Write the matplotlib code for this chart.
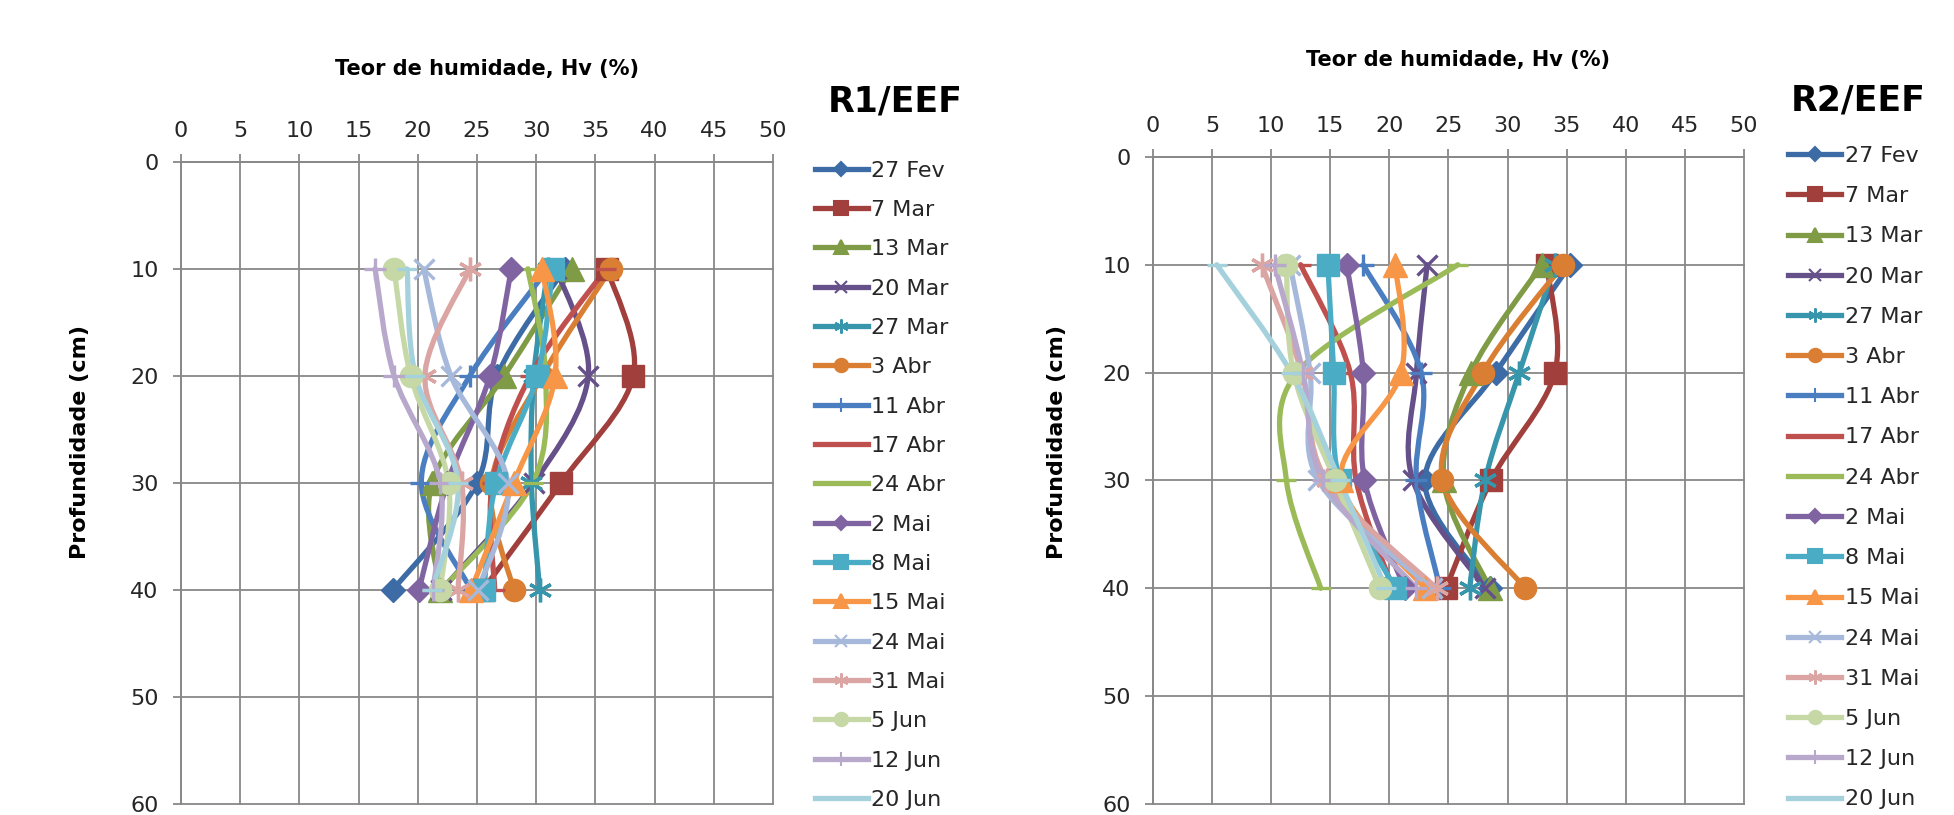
import numpy as np
import matplotlib
matplotlib.use("Agg")
from matplotlib import pyplot as plt
from matplotlib.path import Path
from matplotlib.patches import PathPatch
from matplotlib.lines import Line2D

# datas das medicoes e profundidades (cm)
datas = ['27 Fev', '7 Mar', '13 Mar', '20 Mar', '27 Mar', '3 Abr', '11 Abr',
         '17 Abr', '24 Abr', '2 Mai', '8 Mai', '15 Mai', '24 Mai', '31 Mai',
         '5 Jun', '12 Jun', '20 Jun']
profundidade = [10, 20, 30, 40]

# teor de humidade Hv (%) - R1/EEF, uma linha por data
hv_r1 = [
    [32.4, 26.7, 25.0, 17.9],
    [36.0, 38.2, 32.1, 25.5],
    [33.0, 27.3, 21.2, 21.9],
    [31.7, 34.4, 29.8, 22.0],
    [31.0, 29.8, 29.6, 30.3],
    [36.3, 30.5, 26.2, 28.1],
    [31.0, 24.4, 20.3, 24.5],
    [35.9, 29.5, 26.3, 26.5],
    [29.3, 30.8, 29.7, 22.0],
    [27.9, 26.1, 22.5, 20.1],
    [31.4, 30.1, 26.6, 25.6],
    [30.5, 31.6, 28.1, 24.5],
    [20.5, 22.8, 27.6, 25.1],
    [24.4, 20.6, 23.7, 23.4],
    [18.0, 19.4, 22.6, 21.9],
    [16.4, 18.0, 21.9, 21.3],
    [19.1, 19.8, 23.4, 21.2],
]

# teor de humidade Hv (%) - R2/EEF
hv_r2 = [
    [35.3, 29.0, 23.0, 28.5],
    [33.3, 34.0, 28.6, 24.8],
    [32.9, 26.9, 24.6, 28.5],
    [23.2, 22.3, 22.0, 28.1],
    [34.0, 31.0, 28.1, 26.8],
    [34.7, 27.9, 24.5, 31.5],
    [17.8, 22.7, 22.3, 24.3],
    [12.5, 16.7, 17.2, 20.3],
    [25.8, 12.2, 11.3, 14.2],
    [16.4, 17.8, 17.9, 21.3],
    [14.8, 15.3, 15.8, 20.5],
    [20.5, 21.0, 15.9, 23.0],
    [11.6, 13.3, 14.0, 23.6],
    [9.2, 12.6, 14.7, 24.0],
    [11.3, 11.9, 15.4, 19.2],
    [10.3, 12.7, 14.4, 22.3],
    [5.4, 11.7, 15.8, 19.7],
]

cores = ['#3c6ba5', '#a13f3c', '#7f9b46', '#65508a', '#3795ac', '#d97e33',
         '#4a7ec0', '#c0504d', '#9bbb59', '#8064a2', '#4bacc6', '#f79646',
         '#a7b9da', '#dba5a4', '#c5d8a5', '#b7a8cc', '#a5d1dd']
estrela = (6, 2, 0)
marcadores = ['D', 's', '^', 'x', estrela, 'o', '+', '_', '_',
              'D', 's', '^', 'x', estrela, 'o', '+', '_']
tamanhos = {'D': 12, 's': 16, '^': 17, 'x': 15, 'o': 16, '+': 16, '_': 14}

GRID = '#888888'


def curva(x, y):
    # curva suavizada (tipo Excel) com beziers cubicas
    p = np.column_stack([x, y]).astype(float)
    n = len(p)
    verts = [p[0]]
    codes = [Path.MOVETO]
    for i in range(n - 1):
        p0 = p[max(i - 1, 0)]
        p1 = p[i]
        p2 = p[i + 1]
        p3 = p[min(i + 2, n - 1)]
        verts += [p1 + (p2 - p0) / 6, p2 - (p3 - p1) / 6, p2]
        codes += [Path.CURVE4] * 3
    return Path(verts, codes)


def tam(m):
    return tamanhos.get(m, 17) if isinstance(m, str) else 17


def grafico(fig, rect, dados, titulo, pos_titulo, pos_xlabel, pos_ylabel, pos_leg, esp):
    ax = fig.add_axes(rect)
    for i, hv in enumerate(dados):
        c = cores[i]
        ax.add_patch(PathPatch(curva(hv, profundidade), fc='none', ec=c,
                               lw=3.8, capstyle='round', joinstyle='round'))
        m = marcadores[i]
        ax.plot(hv, profundidade, ls='none', marker=m, ms=tam(m), color=c,
                mew=2.4 if m in ('x', '+', '_') or m == estrela else 1)
    ax.set_xlim(0, 50)
    ax.set_ylim(60, 0)
    ax.set_xticks(np.arange(0, 51, 5))
    ax.set_yticks(np.arange(0, 61, 10))
    ax.xaxis.tick_top()
    ax.grid(True, color=GRID, lw=1.3)
    for g in ax.get_xgridlines() + ax.get_ygridlines():
        g.set_clip_on(False)
    ax.set_axisbelow(True)
    for s in ['right', 'bottom']:
        ax.spines[s].set_visible(False)
    for s in ['left', 'top']:
        ax.spines[s].set_color(GRID)
        ax.spines[s].set_linewidth(1.3)
    ax.tick_params(axis='both', direction='out', length=6, width=1.3,
                   color=GRID, labelsize=16, labelcolor='#262626')
    ax.tick_params(axis='x', pad=9)
    ax.tick_params(axis='y', pad=10)

    fig.text(pos_xlabel[0], pos_xlabel[1], 'Teor de humidade, Hv (%)',
             ha='center', va='center', fontsize=15, fontweight='bold')
    fig.text(pos_ylabel[0], pos_ylabel[1], 'Profundidade (cm)', rotation=90,
             ha='center', va='center', fontsize=16, fontweight='bold')
    fig.text(pos_titulo[0], pos_titulo[1], titulo, ha='center', va='center',
             fontsize=25, fontweight='bold')

    handles = []
    for i in range(len(datas)):
        m = marcadores[i]
        handles.append(Line2D([], [], color=cores[i], lw=3.8, marker=m,
                              ms=tam(m) * 0.6, mew=1.5))
    fig.legend(handles, datas, loc='upper left', bbox_to_anchor=pos_leg,
               frameon=False, fontsize=16, handlelength=2.4,
               handletextpad=0.15, labelspacing=esp, borderaxespad=0,
               borderpad=0, labelcolor='#262626')
    return ax


def main():
    fig = plt.figure(figsize=(19.54, 8.15), dpi=100)
    grafico(fig, [0.0926, 0.0135, 0.303, 0.788], hv_r1, 'R1/EEF',
            (0.458, 0.875), (0.249, 0.915), (0.041, 0.458), (0.417, 0.803), 0.87)
    grafico(fig, [0.590, 0.0135, 0.3025, 0.794], hv_r2, 'R2/EEF',
            (0.951, 0.877), (0.746, 0.926), (0.541, 0.458), (0.915, 0.821), 0.91)
    fig.savefig('out.png', dpi=100)


if __name__ == '__main__':
    main()
